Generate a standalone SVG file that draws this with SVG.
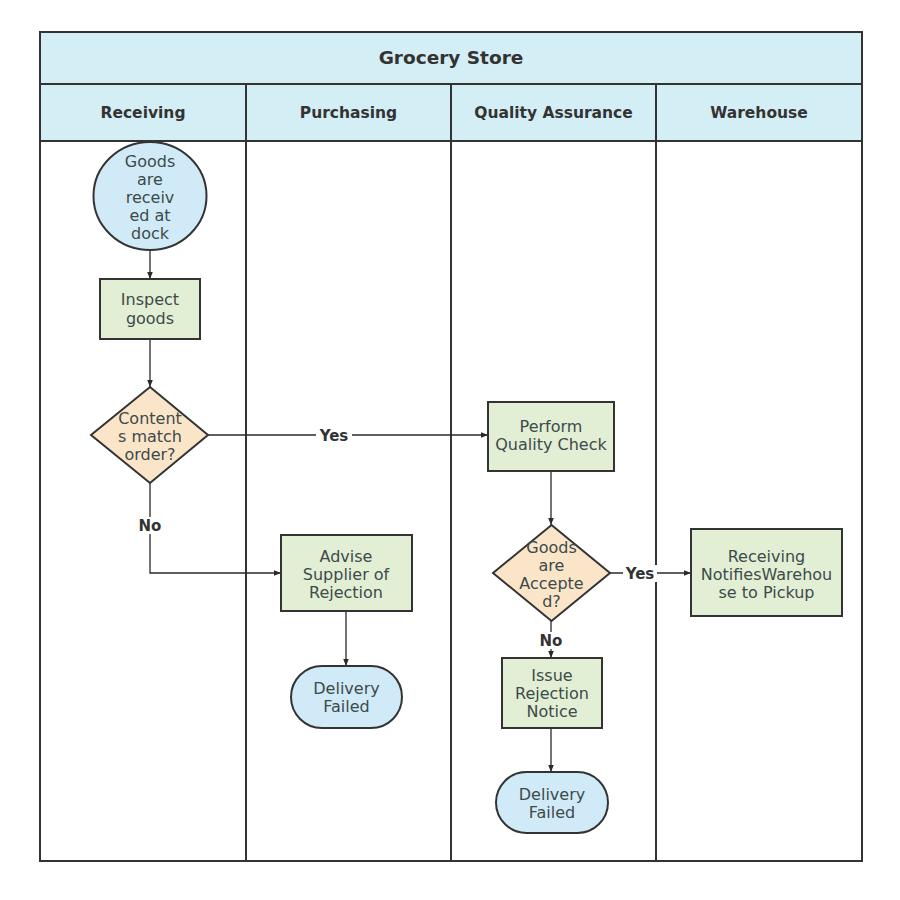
<svg xmlns="http://www.w3.org/2000/svg" width="900" height="900" viewBox="0 0 900 900">
<style>
.lane{fill:#ffffff;stroke:#333333;stroke-width:2}
.hdr{fill:#d3eff5;stroke:#333333;stroke-width:2}
.title{font-family:"DejaVu Sans",Verdana,sans-serif;font-size:18.5px;font-weight:bold;fill:#333333;text-anchor:middle}
.htxt{font-family:"DejaVu Sans",Verdana,sans-serif;font-size:15.5px;font-weight:bold;fill:#333333;text-anchor:middle}
.t{font-family:"DejaVu Sans",Verdana,sans-serif;font-size:16px;fill:#3d4a4a;text-anchor:middle}
.lbl{font-family:"DejaVu Sans",Verdana,sans-serif;font-size:15px;font-weight:bold;fill:#333333;text-anchor:middle}
.blue{fill:#d0eaf7;stroke:#333333;stroke-width:2}
.green{fill:#e2efd5;stroke:#333333;stroke-width:2}
.tan{fill:#fbe5c9;stroke:#333333;stroke-width:2}
.c{fill:none;stroke:#2a2a2a;stroke-width:1.3;marker-end:url(#ah)}
</style>
<defs>
<marker id="ah" viewBox="0 0 10 10" refX="10" refY="5" markerWidth="7" markerHeight="7" markerUnits="userSpaceOnUse" orient="auto">
<path d="M0,1 L10,5 L0,9 z" fill="#2a2a2a"/>
</marker>
</defs>
<rect x="0" y="0" width="900" height="900" fill="#ffffff"/>
<g id="pool">
<rect class="lane" x="40" y="141" width="206" height="720"/>
<rect class="lane" x="246" y="141" width="205" height="720"/>
<rect class="lane" x="451" y="141" width="205" height="720"/>
<rect class="lane" x="656" y="141" width="206" height="720"/>
<rect class="hdr" x="40" y="32" width="822" height="52"/>
<text class="title" x="451" y="64">Grocery Store</text>
<rect class="hdr" x="40" y="84" width="206" height="57"/>
<rect class="hdr" x="246" y="84" width="205" height="57"/>
<rect class="hdr" x="451" y="84" width="205" height="57"/>
<rect class="hdr" x="656" y="84" width="206" height="57"/>
<text class="htxt" x="143" y="118">Receiving</text>
<text class="htxt" x="348.5" y="118">Purchasing</text>
<text class="htxt" x="553.5" y="118">Quality Assurance</text>
<text class="htxt" x="759" y="118">Warehouse</text>
</g>
<g id="connectors">
<path class="c" d="M150,250 L150,279"/>
<path class="c" d="M150,339 L150,387"/>
<path class="c" d="M208,435 L488,435"/>
<path class="c" d="M150,483 L150,573 L281,573"/>
<path class="c" d="M346,611 L346,666"/>
<path class="c" d="M551,471 L551,525"/>
<path class="c" d="M610,573 L691,573"/>
<path class="c" d="M551,621 L551,658"/>
<path class="c" d="M551,728 L551,772"/>
<rect x="316" y="427" width="36" height="17" fill="#ffffff"/>
<text class="lbl" x="334" y="441">Yes</text>
<rect x="136" y="517" width="28" height="17" fill="#ffffff"/>
<text class="lbl" x="150" y="531">No</text>
<rect x="623" y="565" width="34" height="17" fill="#ffffff"/>
<text class="lbl" x="640" y="579">Yes</text>
<rect x="538" y="632" width="28" height="17" fill="#ffffff"/>
<text class="lbl" x="551" y="646">No</text>
</g>
<g id="start">
<ellipse class="blue" cx="150" cy="196" rx="56.5" ry="54"/>
<text class="t" x="150" y="167">Goods</text>
<text class="t" x="150" y="185">are</text>
<text class="t" x="150" y="203">receiv</text>
<text class="t" x="150" y="221">ed at</text>
<text class="t" x="150" y="239">dock</text>
</g>
<g id="inspect">
<rect class="green" x="100" y="279" width="100" height="60"/>
<text class="t" x="150" y="305">Inspect</text>
<text class="t" x="150" y="324">goods</text>
</g>
<g id="match">
<polygon class="tan" points="150,387 208,435 150,483 91,435"/>
<text class="t" x="150" y="424">Content</text>
<text class="t" x="150" y="442">s match</text>
<text class="t" x="150" y="460">order?</text>
</g>
<g id="advise">
<rect class="green" x="281" y="535" width="131" height="76"/>
<text class="t" x="346" y="562">Advise</text>
<text class="t" x="346" y="580">Supplier of</text>
<text class="t" x="346" y="598">Rejection</text>
</g>
<g id="failed1">
<rect class="blue" x="291" y="666" width="111" height="62" rx="31" ry="31"/>
<text class="t" x="346.5" y="694">Delivery</text>
<text class="t" x="346.5" y="712">Failed</text>
</g>
<g id="quality">
<rect class="green" x="488" y="402" width="126" height="69"/>
<text class="t" x="551" y="432">Perform</text>
<text class="t" x="551" y="450">Quality Check</text>
</g>
<g id="accepted">
<polygon class="tan" points="551.5,525 610,573 551.5,621 493,573"/>
<text class="t" x="551.5" y="553">Goods</text>
<text class="t" x="551.5" y="571">are</text>
<text class="t" x="551.5" y="589">Accepte</text>
<text class="t" x="551.5" y="607">d?</text>
</g>
<g id="notify">
<rect class="green" x="691" y="529" width="151" height="87"/>
<text class="t" x="766.5" y="562">Receiving</text>
<text class="t" x="766.5" y="580">NotifiesWarehou</text>
<text class="t" x="766.5" y="598">se to Pickup</text>
</g>
<g id="issue">
<rect class="green" x="502" y="658" width="100" height="70"/>
<text class="t" x="552" y="681">Issue</text>
<text class="t" x="552" y="699">Rejection</text>
<text class="t" x="552" y="717">Notice</text>
</g>
<g id="failed2">
<rect class="blue" x="496" y="772" width="112" height="61" rx="30.5" ry="30.5"/>
<text class="t" x="552" y="800">Delivery</text>
<text class="t" x="552" y="818">Failed</text>
</g>
</svg>
